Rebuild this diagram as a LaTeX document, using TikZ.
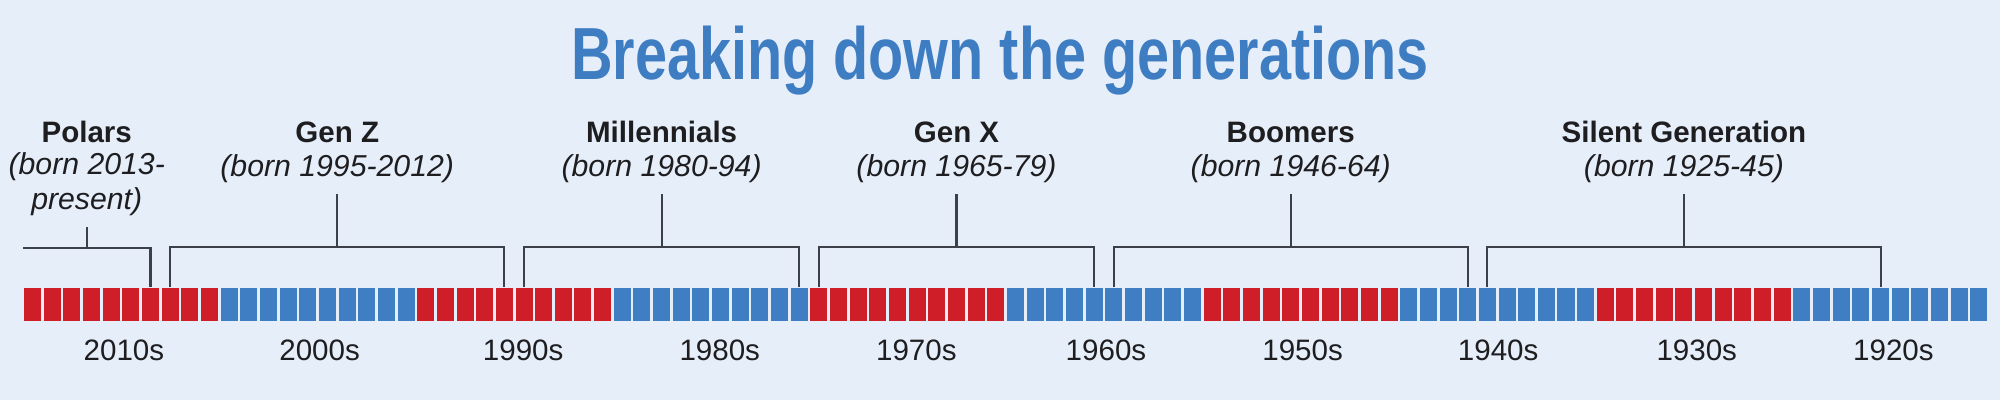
\documentclass[tikz,border=0pt]{standalone}
\usepackage{fontspec}
\setmainfont{Liberation Sans}
\newfontfamily\titlefont[FakeStretch=0.78]{Liberation Sans}
\usetikzlibrary{positioning, calc}

\definecolor{bgblue}{RGB}{230,238,250}
\definecolor{titleblue}{RGB}{62,125,194}
\definecolor{barred}{RGB}{208,30,40}
\definecolor{barblue}{RGB}{64,126,196}
\definecolor{inkdark}{RGB}{30,30,32}
\definecolor{linegray}{RGB}{60,64,72}

\begin{document}
\begin{tikzpicture}[x=0.01cm, y=-0.01cm,
        cell/.style={
            rectangle,
            minimum width=0.17cm,
            minimum height=0.33cm,
            inner sep=0pt
        },
        genname/.style={
            font=\fontsize{8.4}{10}\selectfont\bfseries,
            text=inkdark,
            anchor=base,
            inner sep=0pt
        },
        genborn/.style={
            font=\fontsize{8.6}{9.7}\selectfont\itshape,
            text=inkdark,
            anchor=base,
            align=center,
            inner sep=0pt
        },
        decade/.style={
            font=\fontsize{8.4}{10}\selectfont,
            text=inkdark,
            anchor=base,
            inner sep=0pt
        },
        bracket/.style={draw=linegray, line width=0.6pt}
    ]
        \fill[bgblue] (0,0) rectangle (2000,400);
        \useasboundingbox (0,0) rectangle (2000,400);

        \node[font=\titlefont\fontsize{21}{24}\selectfont\bfseries, text=titleblue, anchor=base] (title) at (1000,79) {
            Breaking down the generations
        };

        % one cell per year, 2019 down to 1920
        \foreach \i in {0,...,99}{
            \pgfmathtruncatemacro{\yr}{2019-\i}
            \pgfmathtruncatemacro{\dc}{mod(floor(\i/10),2)}
            \ifnum\dc=0 \def\cellcol{barred}\else\def\cellcol{barblue}\fi
            \node[cell, fill=\cellcol] (sq-\yr) at ({32.5+19.66*\i},304.5) {};
        }

        % decade labels
        \foreach \d/\dx in {0/3,1/2,2/9,3/9,4/9,5/2,6/2,7/1,8/3,9/3}{
            \pgfmathtruncatemacro{\ya}{2019-10*\d}
            \pgfmathtruncatemacro{\yb}{2010-10*\d}
            \coordinate (dc-\yb) at ($(sq-\ya)!.5!(sq-\yb) + (\dx,0)$);
            \node[decade] (dec-\yb) at (dc-\yb |- 0,360) {\yb s};
        }

        % Polars: open end on the left
        \coordinate (pol-end) at (23,248);
        \coordinate (pol-corner) at (sq-2013.north |- pol-end);
        \coordinate (pol-hook) at ($(pol-end)!.5!(pol-corner)$);
        \node[genname] (pol-name) at (pol-hook |- 0,142.7) {Polars};
        \node[genborn] (pol-born) at (pol-hook |- 0,209) {(born 2013-\\present)};
        \draw[bracket] (pol-end) -| (sq-2013.north);
        \draw[bracket] (pol-hook) -- ([yshift=-3.1pt]pol-born.south);

        % the other generations
        \foreach \g/\ya/\yb/\nm/\bn in {
            gz/2012/1995/Gen Z/(born 1995-2012),
            mil/1994/1980/Millennials/(born 1980-94),
            gx/1979/1965/Gen X/(born 1965-79),
            boom/1964/1946/Boomers/(born 1946-64),
            sil/1945/1925/Silent Generation/(born 1925-45)}{
            \coordinate (\g-hook) at ($(sq-\ya.north)!.5!(sq-\yb.north) + (0,-40)$);
            \node[genname] (\g-name) at (\g-hook |- 0,142.7) {\nm};
            \node[genborn] (\g-born) at (\g-hook |- 0,176) {\bn};
            \draw[bracket] (sq-\ya.north) -- ++(0,-40) -| (sq-\yb.north);
            \draw[bracket] (\g-hook) -- ([yshift=-3.1pt]\g-born.south);
        }
    \end{tikzpicture}
\end{document}
